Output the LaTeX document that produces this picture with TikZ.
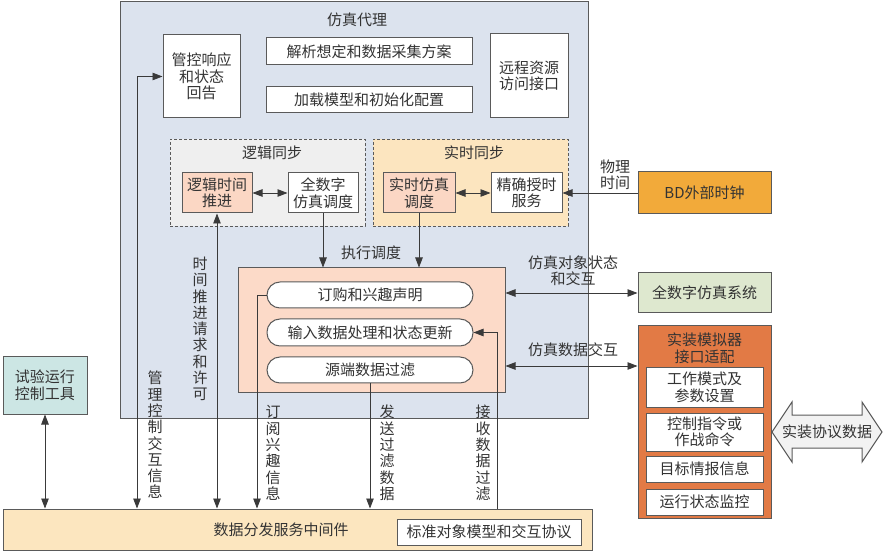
\documentclass[tikz,border=0pt]{standalone}
\usepackage{fontspec}
\setmainfont{Noto Sans CJK SC}
\usetikzlibrary{arrows.meta}
\definecolor{agentbg}{HTML}{DCE3EE}
\definecolor{logicbg}{HTML}{EFEFEF}
\definecolor{realbg}{HTML}{FCE5BF}
\definecolor{peach}{HTML}{FBD7C4}
\definecolor{peachbig}{HTML}{FCDAC8}
\definecolor{bdorange}{HTML}{F2AA3A}
\definecolor{greenbg}{HTML}{DEE8CF}
\definecolor{szorange}{HTML}{E27A45}
\definecolor{tealbg}{HTML}{CCE6E4}
\definecolor{barbg}{HTML}{FCE6BF}
\definecolor{arrbg}{HTML}{F2F2F2}
\definecolor{bordc}{HTML}{5A5A5A}
\definecolor{linec}{HTML}{3A3A3A}
\definecolor{txtc}{HTML}{333333}
\newcommand\mytf{\fontsize{15}{16.5}\selectfont}
\newcommand\myvf{\fontsize{15}{16.3}\selectfont}
\begin{document}
\begin{tikzpicture}[x=1pt,y=-1pt,
  >={Triangle[length=10pt,width=7.5pt]},
  box/.style={draw=bordc, line width=1pt, inner sep=1pt, align=center, font=\mytf, text=txtc},
  dbox/.style={draw=bordc, line width=0.9pt, dash pattern=on 3pt off 2pt},
  pill/.style={box, fill=white, rounded corners=13pt},
  lbl/.style={align=center, font=\mytf, text=txtc, inner sep=0pt},
  vtxt/.style={align=center, font=\myvf, text=txtc, inner sep=0pt},
  conn/.style={draw=linec, line width=0.8pt},
]
\useasboundingbox (0,0) rectangle (884,553);

% agent
\node[box, fill=agentbg, minimum width=468pt, minimum height=416pt] (agent) at (354,210) {};
\node[lbl] (agentT) at (357,20) {仿真代理};
\node[box, fill=white, minimum width=77pt, minimum height=83pt] (gk) at (201.5,76.5) {管控响应\\和状态\\回告};
\node[box, fill=white, minimum width=206pt, minimum height=27pt] (jx) at (369,51.5) {解析想定和数据采集方案};
\node[box, fill=white, minimum width=206pt, minimum height=26pt] (jz) at (369,100) {加载模型和初始化配置};
\node[box, fill=white, minimum width=78pt, minimum height=84pt] (yc) at (529,76) {远程资源\\访问接口};

% sync groups
\node[dbox, fill=logicbg, minimum width=195pt, minimum height=87pt] (ljtb) at (267.5,182.5) {};
\node[lbl] (ljtbT) at (272,153) {逻辑同步};
\node[dbox, fill=realbg, minimum width=195pt, minimum height=87pt] (sstb) at (470.5,182.5) {};
\node[lbl] (sstbT) at (474,153) {实时同步};
\node[box, fill=peach, minimum width=70pt, minimum height=40pt] (ljtj) at (217,193) {逻辑时间\\推进};
\node[box, fill=white, minimum width=70pt, minimum height=40pt] (qsz) at (323,193) {全数字\\仿真调度};
\node[box, fill=peach, minimum width=72pt, minimum height=40pt] (sszh) at (419,193) {实时仿真\\调度};
\node[box, fill=white, minimum width=71pt, minimum height=40pt] (jq) at (526.5,193) {精确授时\\服务};

% peach block
\node[box, fill=peachbig, minimum width=267pt, minimum height=125pt] (peach) at (371.5,330.5) {};
\node[pill, minimum width=206pt, minimum height=26pt] (dg) at (370,295) {订购和兴趣声明};
\node[pill, minimum width=206pt, minimum height=27pt] (sr) at (370,332.5) {输入数据处理和状态更新};
\node[pill, minimum width=206pt, minimum height=26pt] (yd) at (370,370) {源端数据过滤};

% right side
\node[box, fill=bdorange, minimum width=133pt, minimum height=42pt] (bd) at (704.5,193) {BD外部时钟};
\node[box, fill=greenbg, minimum width=133pt, minimum height=40pt] (qszx) at (704.5,293) {全数字仿真系统};
\node[box, fill=szorange, minimum width=133pt, minimum height=192pt] (sz) at (704.5,422) {};
\node[lbl] (szT) at (704.5,348.5) {实装模拟器\\接口适配};
\node[box, fill=white, minimum width=117pt, minimum height=39pt] (gz) at (704.5,387.5) {工作模式及\\参数设置};
\node[box, fill=white, minimum width=117pt, minimum height=38pt] (kz) at (704.5,432) {控制指令或\\作战命令};
\node[box, fill=white, minimum width=117pt, minimum height=26pt] (mb) at (704.5,469) {目标情报信息};
\node[box, fill=white, minimum width=117pt, minimum height=26pt] (yx) at (704.5,502) {运行状态监控};

\draw[draw=bordc, line width=1pt, fill=arrbg]
  (772,432) -- (792,402) -- (792,415) -- (862,415) -- (862,402) -- (882,432)
  -- (862,462) -- (862,448) -- (792,448) -- (792,462) -- cycle;
\node[lbl] (bigarr) at (827,432) {实装协议数据};

% left / bottom
\node[box, fill=tealbg, minimum width=84pt, minimum height=57pt] (sy) at (45,385.5) {试验运行\\控制工具};
\node[box, fill=barbg, minimum width=589pt, minimum height=41pt] (bar) at (297.5,529.5) {};
\node[lbl] (barT) at (281,530) {数据分发服务中间件};
\node[box, fill=white, minimum width=184pt, minimum height=26pt] (bz) at (489,532) {标准对象模型和交互协议};

% coordinates
\coordinate (xA) at (137,0);
\coordinate (xC) at (257,0);
\coordinate (xE) at (497,0);
\coordinate (ySJ) at (0,366);

% connectors
\draw[conn,<->] (ljtj.east) -- (qsz.west);
\draw[conn,<->] (sszh.east) -- (jq.west);
\draw[conn,->] (bd.west) -- (jq.east);
\draw[conn,->] (qsz.south) -- (qsz.south |- peach.north);
\draw[conn,->] (sszh.south) -- (sszh.south |- peach.north);
\draw[conn,<->] (peach.east |- qszx.west) -- (qszx.west);
\draw[conn,<->] (peach.east |- ySJ) -- (sz.west |- ySJ);
\draw[conn,<->] (gk.west) -| (xA |- bar.north);
\draw[conn,<->] (ljtj.south) -- (ljtj.south |- bar.north);
\draw[conn,->] (dg.west) -| (xC |- bar.north);
\draw[conn,->] (yd.south) -- (yd.south |- bar.north);
\draw[conn,->] (xE |- bar.north) |- (sr.east);
\draw[conn,<->] (sy.south) -- (sy.south |- bar.north);

% labels
\node[lbl] (lwl) at (615,175) {物理\\时间};
\node[lbl] (lzx) at (371,253) {执行调度};
\node[lbl] (ldx) at (573,271) {仿真对象状态\\和交互};
\node[lbl] (lsj) at (573,350) {仿真数据交互};
\node[vtxt] (vgl) at (155,435) {管\\理\\控\\制\\交\\互\\信\\息};
\node[vtxt] (vsj) at (200,329) {时\\间\\推\\进\\请\\求\\和\\许\\可};
\node[vtxt] (vdy) at (273,453) {订\\阅\\兴\\趣\\信\\息};
\node[vtxt] (vfs) at (387,453) {发\\送\\过\\滤\\数\\据};
\node[vtxt] (vjs) at (483,453) {接\\收\\数\\据\\过\\滤};
\end{tikzpicture}
\end{document}
